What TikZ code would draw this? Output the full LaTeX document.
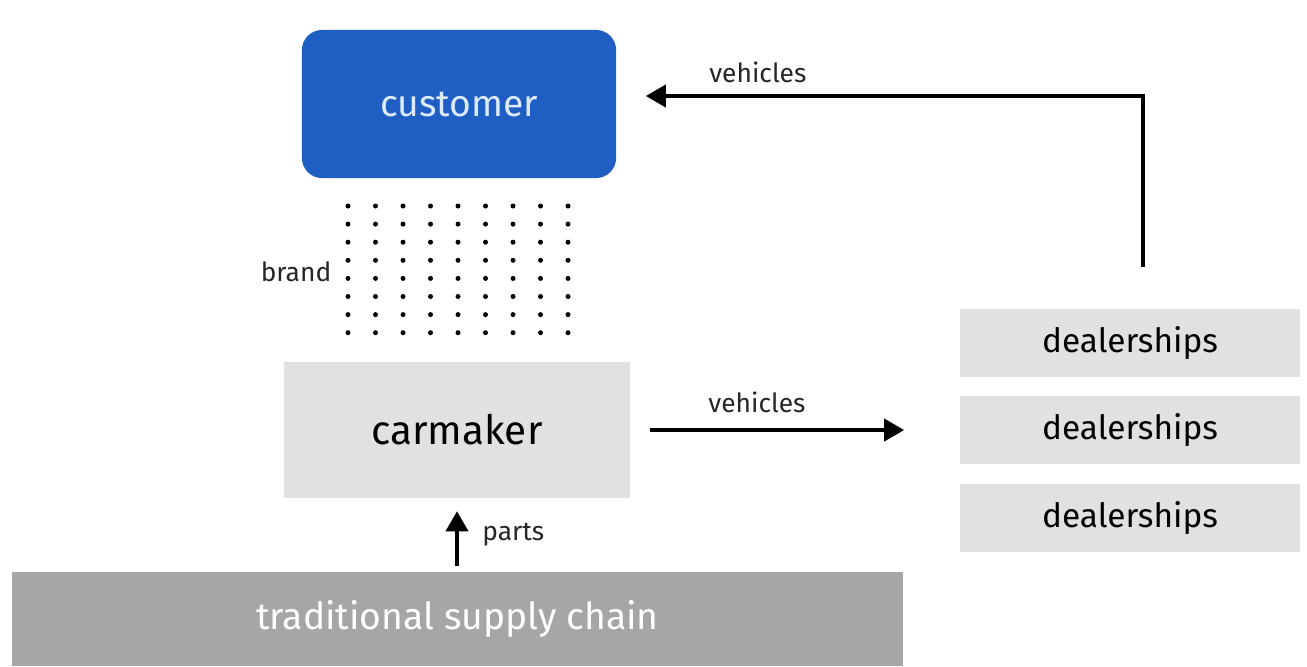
\documentclass[tikz,border=0pt]{standalone}
\usepackage{fontspec}
\setmainfont{Fira Sans}
\usetikzlibrary{positioning,calc,arrows.meta}

\definecolor{custblue}{HTML}{1F5FC4}
\definecolor{custtext}{HTML}{DCEBFF}
\definecolor{boxgray}{HTML}{E1E1E1}
\definecolor{chaingray}{HTML}{A6A6A6}

\begin{document}
\begin{tikzpicture}[
    x=0.01cm, y=-0.01cm,
    box/.style={draw=none, fill=boxgray, inner sep=0pt},
    dealer/.style={box, minimum width=3.4cm, minimum height=0.67cm, font=\fontsize{9.5}{12}\selectfont},
    flow/.style={-{Triangle[length=0.2cm, width=0.22cm]}, line width=1.1pt, black},
    flowlabel/.style={font=\fontsize{7.5}{9}\selectfont, text=black!85, inner sep=1pt}
]
\useasboundingbox (0,0) rectangle (1307,666);

% Main boxes
\node[fill=custblue, rounded corners=0.2cm, minimum width=3.14cm, minimum height=1.48cm,
      text=custtext, font=\fontsize{10.6}{13}\selectfont] (customer) at (459,104) {customer};
\node[box, minimum width=3.45cm, minimum height=1.35cm, font=\fontsize{11.5}{14}\selectfont] (carmaker) at (457,430) {carmaker};
\node[box, fill=chaingray, minimum width=8.91cm, minimum height=0.94cm,
      text=white, font=\fontsize{10.6}{13}\selectfont] (chain) at (457.5,619) {traditional supply chain};

% Dealerships
\node[dealer] (deal1) at (1130,343) {dealerships};
\node[dealer] (deal2) at (1130,430) {dealerships};
\node[dealer] (deal3) at (1130,518) {dealerships};

% Brand dots
\foreach \i in {0,...,8}
  \foreach \j in {0,...,7}
    \fill (348+27.5*\i, 206+18.1*\j) circle (0.025cm);
\node[flowlabel] (brand) at (296,272) {brand};

% Flows
\draw[flow, shorten <=0.2cm, shorten >=0.55cm] (carmaker) -- (deal2)
    node[flowlabel, pos=0.385, above=0.12cm] (vehlow) {vehicles};
\draw[flow, shorten <=0.42cm, shorten >=0.29cm] (deal1.north -| 1143,0) |- (customer.east |- 0,96)
    node[flowlabel, pos=0.866, above=0.08cm] (vehtop) {vehicles};
\draw[flow, shorten <=0.05cm, shorten >=0.13cm] (chain.north -| carmaker.south) -- (carmaker.south)
    node[flowlabel, midway, right=0.2cm] (parts) {parts};

\end{tikzpicture}
\end{document}
